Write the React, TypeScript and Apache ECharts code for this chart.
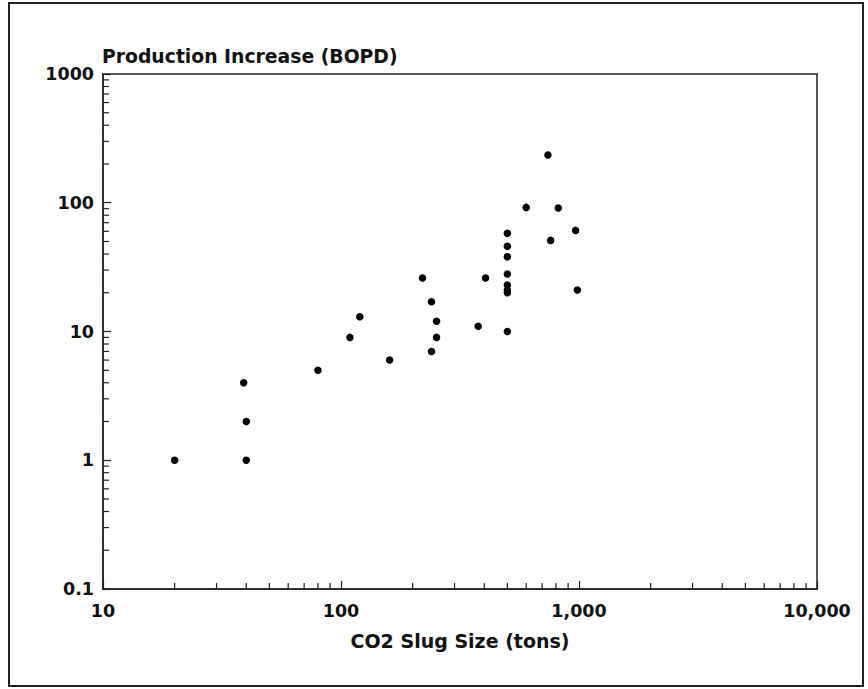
import React, { useEffect, useRef } from "react";
import * as echarts from "echarts";

// CO2 slug size (tons) and production increase (BOPD)
const slugTons = [20, 40, 40, 39, 80, 109, 120, 160, 220, 240, 252, 252, 240, 377, 405, 500, 500, 500, 500, 500, 500, 500, 500, 600, 740, 760, 818, 968, 984];
const bopd = [1, 1, 2, 4, 5, 9, 13, 6, 26, 17, 12, 9, 7, 11, 26, 10, 20, 21, 23, 28, 38, 46, 58, 92, 235, 51, 91, 61, 21];

const xTickLabels: Record<string, string> = { "10": "10", "100": "100", "1000": "1,000", "10000": "10,000" };
const yTickLabels: Record<string, string> = { "0.1": "0.1", "1": "1", "10": "10", "100": "100", "1000": "1000" };

const xMinorTicks = [20, 30, 40, 50, 60, 70, 80, 90, 200, 300, 400, 500, 600, 700, 800, 900, 2000, 3000, 4000, 5000, 6000, 7000, 8000, 9000];
const yMinorTicks = [0.2, 0.3, 0.4, 0.5, 0.6, 0.7, 0.8, 0.9, 2, 3, 4, 5, 6, 7, 8, 9, 20, 30, 40, 50, 60, 70, 80, 90, 200, 300, 400, 500, 600, 700, 800, 900];

const FONT = "DejaVu Sans";
const INK = "#111";

export default function App() {
  const ref = useRef<HTMLDivElement>(null);
  useEffect(() => {
    if (!ref.current) return;
    const chart = echarts.init(ref.current, undefined, { renderer: "svg" });
    const labelStyle = { fontFamily: FONT, fontWeight: "bold" as const, fontSize: 17.5, color: INK };
    chart.setOption({
      animation: false,
      backgroundColor: "#ffffff",
      title: {
        text: "Production Increase (BOPD)",
        left: 102,
        top: 47,
        padding: 0,
        textStyle: { fontFamily: FONT, fontWeight: "bold", fontSize: 18.8, color: INK },
      },
      graphic: [
        {
          type: "rect",
          shape: { x: 9, y: 3, width: 854, height: 683 },
          style: { fill: "none", stroke: "#222", lineWidth: 2 },
          silent: true,
        },
      ],
      grid: {
        left: 103,
        right: 51,
        top: 74,
        bottom: 100,
        show: true,
        borderColor: "#222",
        borderWidth: 1.5,
        backgroundColor: "transparent",
      },
      xAxis: {
        type: "log",
        logBase: 10,
        min: 10,
        max: 10000,
        name: "CO2 Slug Size (tons)",
        nameLocation: "middle",
        nameGap: 42,
        nameTextStyle: { fontFamily: FONT, fontWeight: "bold", fontSize: 19, color: INK },
        axisLine: { show: true, lineStyle: { color: "#222", width: 1.5 } },
        axisTick: { show: true, inside: true, length: 8, lineStyle: { color: "#222", width: 1.2 } },
        axisLabel: {
          ...labelStyle,
          margin: 13,
          formatter: (v: number) => xTickLabels[String(Math.round(v))] ?? String(v),
        },
        splitLine: { show: false },
      },
      yAxis: {
        type: "log",
        logBase: 10,
        min: 0.1,
        max: 1000,
        axisLine: { show: true, lineStyle: { color: "#222", width: 1.5 } },
        axisTick: { show: true, inside: true, length: 8, lineStyle: { color: "#222", width: 1.2 } },
        axisLabel: {
          ...labelStyle,
          margin: 9,
          formatter: (v: number) => yTickLabels[String(+v.toPrecision(6))] ?? String(v),
        },
        splitLine: { show: false },
      },
      series: [
        {
          type: "scatter",
          symbol: "circle",
          symbolSize: 7.5,
          itemStyle: { color: "#000", opacity: 1 },
          data: slugTons.map((x, i) => [x, bopd[i]]),
          silent: true,
        },
        {
          type: "custom",
          silent: true,
          clip: false,
          data: xMinorTicks.map((v) => [v, 0.1]),
          renderItem: (_p: any, api: any) => {
            const c = api.coord([api.value(0), api.value(1)]);
            return {
              type: "line",
              shape: { x1: c[0], y1: c[1], x2: c[0], y2: c[1] - 6 },
              style: { stroke: "#222", lineWidth: 1.2 },
            };
          },
        },
        {
          type: "custom",
          silent: true,
          clip: false,
          data: yMinorTicks.map((v) => [10, v]),
          renderItem: (_p: any, api: any) => {
            const c = api.coord([api.value(0), api.value(1)]);
            return {
              type: "line",
              shape: { x1: c[0], y1: c[1], x2: c[0] + 6, y2: c[1] },
              style: { stroke: "#222", lineWidth: 1.2 },
            };
          },
        },
      ],
    });
    return () => chart.dispose();
  }, []);
  return (
    <div
      ref={ref}
      style={{ position: "fixed", left: 0, top: 0, width: 868, height: 689, background: "#fff" }}
    />
  );
}
